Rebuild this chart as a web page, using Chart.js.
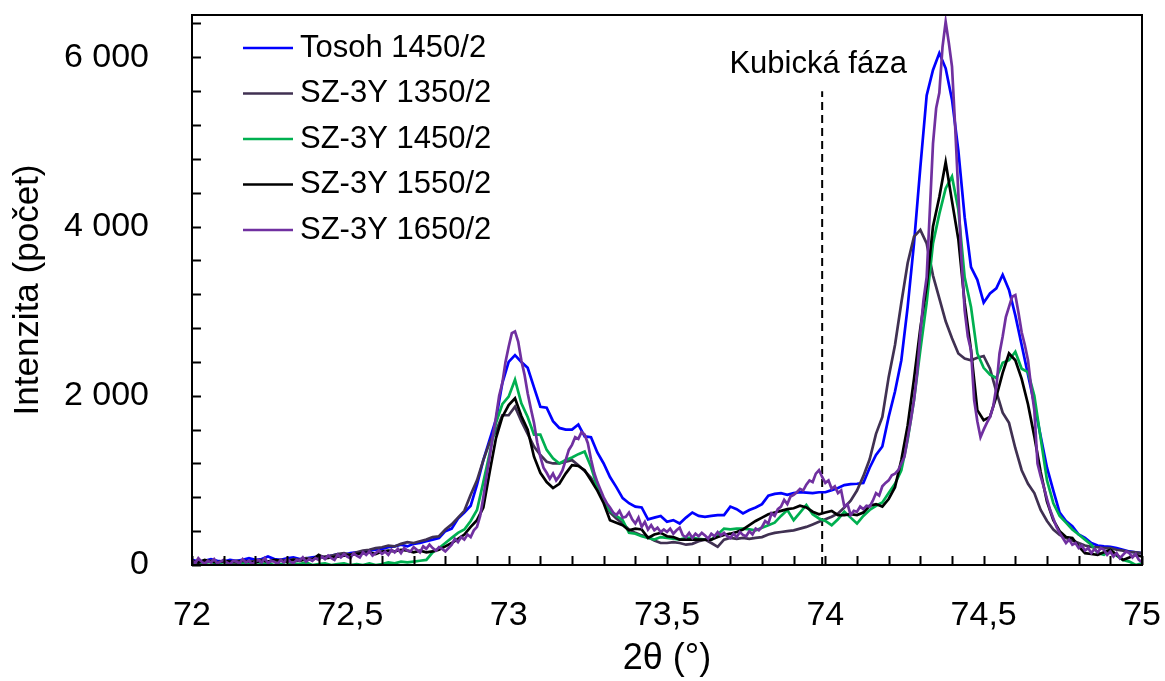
<!DOCTYPE html>
<html>
<head>
<meta charset="utf-8">
<script src="https://cdn.jsdelivr.net/npm/chart.js"></script>
<style>
  html, body { margin: 0; background: #fff; }
  #wrap { width: 1165px; height: 681px; }
</style>
</head>
<body>
<div id="wrap"><canvas id="xrd"></canvas></div>
<script>
// 2theta sampling of the four measured patterns (72 .. 75, step 0.02)
const thetaStart = 72;
const thetaStep = 0.02;
// SZ-3Y 1650/2 was scanned finer (step 0.01)
const fineStep = 0.01;

const seriesNames = ['Tosoh 1450/2', 'SZ-3Y 1350/2', 'SZ-3Y 1450/2', 'SZ-3Y 1550/2', 'SZ-3Y 1650/2'];
const seriesColors = ['#0000FF', '#403152', '#00B050', '#000000', '#7030A0'];

const tosoh1450 = [
  60, 40, 50, 70, 50, 40, 60, 50, 60, 80,
  60, 70, 100, 70, 60, 80, 90, 70, 80, 90,
  100, 90, 110, 130, 120, 140, 150, 140, 170, 180,
  190, 210, 220, 240, 220, 250, 260, 280, 300, 320,
  400, 430, 550, 620, 700, 950, 1240, 1480, 1720, 2150,
  2400, 2480, 2400, 2330, 2100, 1870, 1860, 1700, 1620, 1600,
  1600, 1660, 1520, 1510, 1330, 1200, 1040, 920, 790, 730,
  690, 680, 540, 560, 580, 510, 530, 490, 560, 620,
  580, 570, 580, 590, 590, 690, 660, 610, 650, 680,
  720, 820, 840, 850, 830, 850, 860, 855, 850, 860,
  860, 885, 910, 945, 955, 960, 970, 1150, 1300, 1400,
  1750, 2050, 2420, 3050, 3800, 4700, 5550, 5850, 6050, 5870,
  5500, 4900, 4110, 3520, 3370, 3100, 3210, 3270, 3430, 3250,
  2950, 2600, 2250, 1900, 1520, 1150, 880, 620, 520, 460,
  360, 320, 260, 230, 220, 215, 200, 180, 160, 150,
  140
];

const sz1350 = [
  40, 20, 30, 50, 30, 40, 30, 50, 40, 30,
  50, 60, 40, 50, 60, 50, 70, 60, 80, 70,
  90, 100, 110, 130, 140, 120, 150, 170, 180, 200,
  210, 230, 220, 250, 270, 260, 280, 300, 330, 340,
  420, 480, 560, 640, 830, 1000, 1240, 1450, 1580, 1770,
  1770, 1870, 1700, 1550, 1400, 1300, 1220, 1200, 1200, 1220,
  1240, 1180, 1110, 1030, 900, 780, 620, 550, 490, 420,
  380, 350, 330, 290, 260, 260, 270, 260, 240, 250,
  280, 300, 260, 215, 300, 320, 310, 320, 310, 320,
  330, 360, 380, 390, 400, 410, 430, 450, 480, 510,
  540, 570, 610, 680, 760, 880, 1050, 1250, 1550, 1750,
  2220, 2600, 3100, 3570, 3880, 3960, 3800, 3420, 3150, 2880,
  2680, 2500, 2440, 2420, 2450, 2470, 2320, 2050, 1800, 1680,
  1380, 1120, 960, 850, 650, 520, 420, 355, 320, 290,
  260, 230, 215, 210, 200, 200, 180, 170, 155, 150,
  140
];

const sz1450 = [
  20, 0, 10, 0, 20, 0, 10, 0, 20, 10,
  0, 10, 20, 0, 10, 0, 20, 10, 30, 0,
  10, 20, 0, 10, 20, 0, 10, 0, 20, 0,
  10, 30, 20, 40, 30, 40, 50, 60, 150, 200,
  260, 320, 380, 420, 520, 650, 980, 1320, 1680, 1900,
  1990, 2190, 1910, 1750, 1540, 1540, 1360, 1260, 1200, 1240,
  1270, 1310, 1340, 1160, 920, 760, 640, 580, 530, 380,
  370, 340, 320, 300, 330, 320, 310, 300, 320, 320,
  310, 300, 300, 360, 430, 420, 430, 430, 420, 410,
  440, 470, 500, 580, 650, 530, 620, 710, 600, 550,
  520, 470, 540, 630, 560, 490, 580, 650, 700, 740,
  850, 960, 1120, 1480, 1950, 2540, 3100, 3800, 4150, 4450,
  4590, 4200, 3400, 3050, 2500, 2330, 2250, 2210, 2390, 2420,
  2520, 2320, 2280, 2000, 1500, 1000, 730, 580, 500, 420,
  360, 300, 240, 140, 120, 180, 110, 60, 40, 0,
  20
];

const sz1550 = [
  50, 30, 60, 40, 30, 50, 40, 30, 50, 40,
  30, 50, 40, 60, 50, 40, 60, 50, 70, 60,
  120, 80, 90, 100, 110, 120, 130, 140, 150, 130,
  160, 170, 160, 180, 170, 150, 170, 150, 160, 180,
  220, 260, 310, 360, 450, 530, 680, 1100, 1500, 1750,
  1890, 1970, 1760, 1600, 1280, 1090, 980, 910, 960, 1080,
  1180, 1170, 1120, 1000, 880, 730, 530, 500, 470, 410,
  430, 420, 320, 360, 380, 340, 330, 300, 300, 300,
  300, 300, 300, 330, 355, 370, 390, 420, 470, 520,
  560, 600, 620, 640, 660, 670, 700, 680, 630, 600,
  620, 640, 590, 590, 600, 590, 620, 700, 720, 690,
  780, 920, 1240, 1650, 2200, 2800, 3300, 4000, 4350, 4760,
  4300, 3850, 3100, 2540, 1830, 1710, 1750, 1990, 2270, 2500,
  2420, 2200, 1900, 1520, 1100, 750, 530, 400, 330, 320,
  220, 140, 130, 120, 150, 180, 120, 60, 90, 120,
  100
];

const sz1650 = [
  60, 20, 80, 40, 10, 50, 30, 70, 20, 40,
  60, 30, 10, 50, 40, 20, 70, 30, 50, 10,
  40, 60, 30, 80, 20, 50, 40, 10, 60, 30,
  70, 40, 20, 60, 50, 90, 40, 70, 50, 80,
  60, 100, 70, 110, 80, 60, 120, 90, 130, 100,
  80, 140, 110, 90, 150, 120, 160, 110, 140, 170,
  130, 160, 120, 180, 150, 190, 140, 200, 170, 160,
  210, 180, 150, 220, 190, 240, 200, 170, 210, 190,
  160, 200, 240, 310, 270, 330, 300, 360, 330, 410,
  450, 580, 800, 1050, 1280, 1520, 1750, 2000, 2150, 2400,
  2580, 2740, 2760, 2640, 2420, 2250, 2030, 1850, 1680, 1450,
  1280, 1150, 1090, 1020, 1080, 1000, 1050, 1120, 1240, 1360,
  1420, 1510, 1490, 1570, 1540, 1440, 1250, 1090, 980, 890,
  800, 730, 680, 620, 590, 640, 560, 570, 620, 540,
  490, 560, 450, 510, 420, 470, 410, 440, 390, 420,
  390, 430, 370, 410, 440, 350, 330, 380, 320, 370,
  340, 380, 350, 310, 370, 340, 390, 350, 380, 340,
  320, 370, 330, 390, 355, 340, 400, 360, 430, 410,
  450, 520, 490, 610, 580, 660, 690, 770, 720, 810,
  830, 860, 900, 880, 950, 1000, 980, 1080, 1120, 1040,
  970, 1000, 900, 930, 850, 880, 690, 720, 590, 640,
  630, 690, 660, 700, 690, 760, 850, 820, 930, 970,
  1000, 1060, 1080, 1120, 1200, 1280, 1500, 1710, 1950, 2270,
  2740, 3130, 3400, 4190, 4980, 5400, 5580, 6120, 6420, 6170,
  5890, 5180, 4390, 3600, 3010, 2700, 2540, 1950, 1700, 1510,
  1600, 1680, 1750, 1870, 2100, 2500, 2700, 2930, 3050, 3170,
  3190, 2980, 2750, 2600, 2420, 2100, 1830, 1200, 1050, 920,
  780, 650, 550, 450, 380, 320, 260, 300, 240, 260,
  200, 230, 170, 200, 140, 190, 150, 200, 180, 120,
  160, 100, 140, 80, 120, 160, 140, 90, 130, 60,
  35
];

const xTicks = [72, 72.5, 73, 73.5, 74, 74.5, 75];
const yTicks = [0, 2000, 4000, 6000];

// cubic phase marker
const cubicTheta = 73.99;
const cubicTop = 5600;
const cubicLabel = 'Kubická fáza';

const toPoints = (vals, step) => vals.map((v, i) => ({ x: +(thetaStart + i * step).toFixed(3), y: v }));

const allSeries = [tosoh1450, sz1350, sz1450, sz1550, sz1650];
const steps = [thetaStep, thetaStep, thetaStep, thetaStep, fineStep];

const datasets = allSeries.map((vals, i) => ({
  label: seriesNames[i],
  data: toPoints(vals, steps[i]),
  borderColor: seriesColors[i],
  borderWidth: 2.7,
  pointRadius: 0,
  tension: 0,
  fill: false,
  order: 5 - i
}));

datasets.push({
  label: 'cubic',
  data: [{ x: cubicTheta, y: 0 }, { x: cubicTheta, y: cubicTop }],
  borderColor: '#000',
  borderWidth: 2,
  borderDash: [8, 5],
  pointRadius: 0,
  fill: false,
  order: 10
});

const FONT = 'Liberation Sans, Arial, sans-serif';

// frame, inward tick marks, legend and the phase label
const decor = {
  id: 'decor',
  afterDraw(chart) {
    const ctx = chart.ctx;
    const a = chart.chartArea;
    const xs = chart.scales.x, ys = chart.scales.y;
    ctx.save();
    ctx.strokeStyle = '#000';
    ctx.lineWidth = 2;
    ctx.strokeRect(a.left, a.top, a.right - a.left, a.bottom - a.top);

    ctx.beginPath();
    for (let k = 0; k <= 16; k++) {
      const py = Math.round(ys.getPixelForValue(k * 400)) + 0.5;
      ctx.moveTo(a.left, py);
      ctx.lineTo(a.left + 9, py);
    }
    for (let k = 0; k <= 30; k++) {
      const px = Math.round(xs.getPixelForValue(72 + k * 0.1)) + 0.5;
      ctx.moveTo(px, a.bottom);
      ctx.lineTo(px, a.bottom - 9);
    }
    ctx.stroke();

    // legend
    ctx.font = '31px ' + FONT;
    ctx.textBaseline = 'middle';
    ctx.textAlign = 'left';
    seriesNames.forEach((name, i) => {
      const y = 48 + i * 45.5;
      ctx.strokeStyle = seriesColors[i];
      ctx.lineWidth = 2.7;
      ctx.beginPath();
      ctx.moveTo(243, y);
      ctx.lineTo(293, y);
      ctx.stroke();
      ctx.fillStyle = '#000';
      ctx.fillText(name, 300, y);
    });

    ctx.textAlign = 'center';
    ctx.fillText(cubicLabel, xs.getPixelForValue(cubicTheta) - 4, 64);
    ctx.restore();
  }
};

new Chart(document.getElementById('xrd'), {
  type: 'line',
  data: { datasets: datasets },
  options: {
    responsive: true,
    maintainAspectRatio: false,
    animation: false,
    layout: { padding: { left: 0, right: 23, top: 15, bottom: 0 } },
    plugins: { legend: { display: false }, tooltip: { enabled: false } },
    scales: {
      x: {
        type: 'linear',
        min: 72,
        max: 75,
        afterBuildTicks: (axis) => { axis.ticks = xTicks.map(v => ({ value: v })); },
        afterFit: (axis) => {
          axis.height = 116;
          axis.paddingLeft = 0;
          axis.paddingRight = 0;
        },
        grid: { display: false },
        border: { display: false },
        ticks: {
          color: '#000',
          font: { family: FONT, size: 34 },
          padding: 22,
          maxRotation: 0,
          autoSkip: false,
          callback: (v) => String(v).replace('.', ',')
        },
        title: {
          display: true,
          text: '2θ (°)',
          color: '#000',
          font: { family: FONT, size: 36 },
          padding: { top: 0, bottom: 0 }
        }
      },
      y: {
        min: 0,
        max: 6500,
        afterBuildTicks: (axis) => { axis.ticks = yTicks.map(v => ({ value: v })); },
        afterFit: (axis) => {
          axis.width = 192;
          axis.paddingTop = 0;
          axis.paddingBottom = 0;
        },
        grid: { display: false },
        border: { display: false },
        ticks: {
          color: '#000',
          font: { family: FONT, size: 34 },
          padding: 35,
          callback: (v) => String(v).replace(/\B(?=(\d{3})+(?!\d))/g, ' ')
        },
        title: {
          display: true,
          text: 'Intenzita (počet)',
          color: '#000',
          font: { family: FONT, size: 35 },
          padding: { top: 7, bottom: 0 }
        }
      }
    }
  },
  plugins: [decor]
});
</script>
</body>
</html>
